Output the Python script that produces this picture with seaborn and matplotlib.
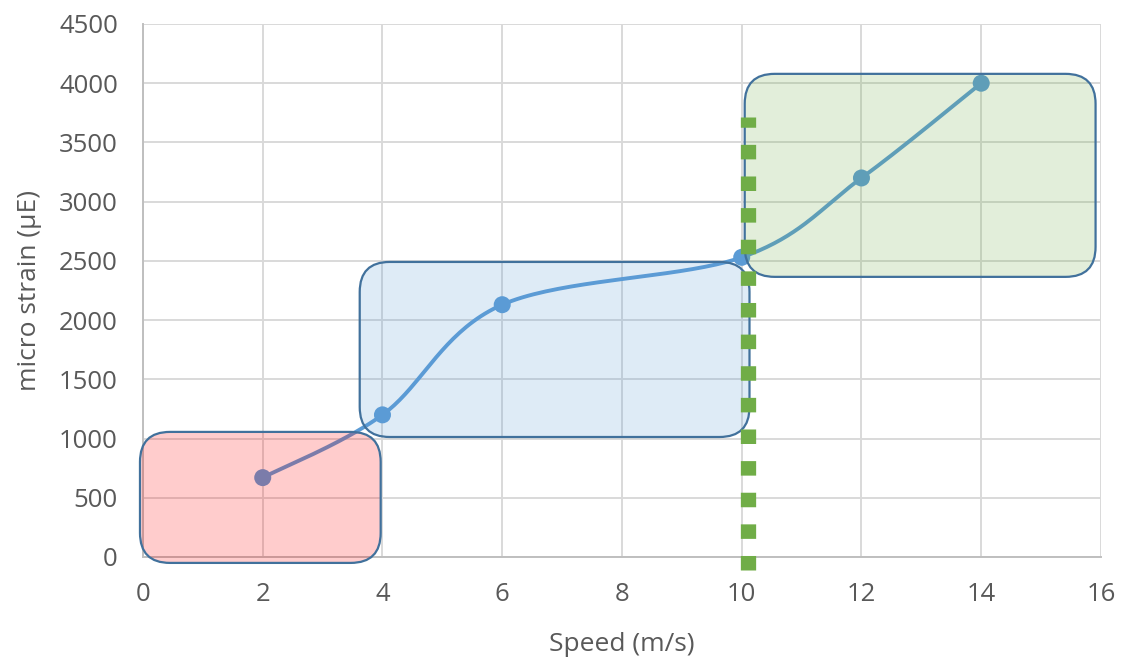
import numpy as np
import pandas as pd
import matplotlib
matplotlib.use("Agg")
import matplotlib.pyplot as plt
import seaborn as sns
from matplotlib.patches import FancyBboxPatch
from matplotlib.transforms import IdentityTransform

# data
speed = [2, 4, 6, 10, 12, 14]
strain = [670, 1200, 2130, 2530, 3200, 4000]
x_ticks = [0, 2, 4, 6, 8, 10, 12, 14, 16]
y_ticks = [0, 500, 1000, 1500, 2000, 2500, 3000, 3500, 4000, 4500]

# highlighted regions: (x0, x1, y0, y1, colour)
region_x0 = [-0.05, 3.62, 10.05]
region_x1 = [3.97, 10.13, 15.91]
region_y0 = [-50, 1013, 2365]
region_y1 = [1056, 2491, 4079]
region_col = ["#FF0000", "#5B9BD5", "#70AD47"]

threshold_x = 10.1
threshold_y = [-110, 3716]


def smooth_curve(xs, ys, n=40):
    """Catmull-Rom 平滑曲线 (类似 Excel 平滑线)"""
    p = np.column_stack([xs, ys]).astype(float)
    p = np.vstack([p[0], p, p[-1]])
    out = []
    t = np.linspace(0, 1, n)
    for i in range(1, len(p) - 2):
        p0, p1, p2, p3 = p[i - 1], p[i], p[i + 1], p[i + 2]
        c1 = p1 + (p2 - p0) / 6
        c2 = p2 - (p3 - p1) / 6
        seg = ((1 - t) ** 3)[:, None] * p1 + (3 * (1 - t) ** 2 * t)[:, None] * c1 \
            + (3 * (1 - t) * t ** 2)[:, None] * c2 + (t ** 3)[:, None] * p2
        out.append(seg)
    return np.vstack(out)


sns.set_style("white")
plt.rcParams['font.family'] = ['Open Sans', 'DejaVu Sans']

fig = plt.figure(figsize=(11.24, 6.59), dpi=100)
ax = fig.add_axes([0.1272, 0.1548, 0.8523, 0.8088])

curve = smooth_curve(speed, strain)
curve_df = pd.DataFrame({"x": curve[:, 0], "y": curve[:, 1]})
pts_df = pd.DataFrame({"speed": speed, "strain": strain})

line_col = "#5B9BD5"
sns.lineplot(data=curve_df, x="x", y="y", sort=False, color=line_col,
             linewidth=2.8, ax=ax, zorder=3)
sns.scatterplot(data=pts_df, x="speed", y="strain", color=line_col,
                s=150, edgecolor="none", ax=ax, zorder=4)

ax.set_xlim(0, 16)
ax.set_ylim(0, 4500)

# 半透明圆角框 (在像素坐标中画, 保证圆角是正圆)
for x0, x1, y0, y1, c in zip(region_x0, region_x1, region_y0, region_y1, region_col):
    (px0, py0), (px1, py1) = ax.transData.transform([(x0, y0), (x1, y1)])
    box = FancyBboxPatch((px0, py0), px1 - px0, py1 - py0,
                         boxstyle="round,pad=0,rounding_size=30",
                         transform=IdentityTransform(),
                         facecolor=matplotlib.colors.to_rgba(c, 0.2),
                         edgecolor="#41719C", linewidth=1.6,
                         clip_on=False, zorder=5)
    ax.add_artist(box)

# 绿色虚线 (阈值)
ax.plot([threshold_x, threshold_x], threshold_y, color="#70AD47",
        linewidth=11, linestyle=(0, (0.95, 1.12)),
        dash_capstyle="butt", clip_on=False, zorder=6)

ax.set_xticks(x_ticks)
ax.set_yticks(y_ticks)
ax.grid(True, color="#D9D9D9", linewidth=1.4)
ax.set_axisbelow(True)
for side in ["top", "right"]:
    ax.spines[side].set_visible(False)
for side in ["left", "bottom"]:
    ax.spines[side].set_color("#BFBFBF")
    ax.spines[side].set_linewidth(1.4)

ax.tick_params(axis="both", length=0, labelsize=18.5, labelcolor="#595959")
ax.tick_params(axis="x", pad=18)
ax.tick_params(axis="y", pad=18)
ax.set_xlabel("Speed (m/s)", fontsize=19, color="#595959", labelpad=18)
ax.set_ylabel("micro strain (µE)", fontsize=19, color="#595959", labelpad=12)

plt.savefig("out.png", dpi=100)
plt.close()
